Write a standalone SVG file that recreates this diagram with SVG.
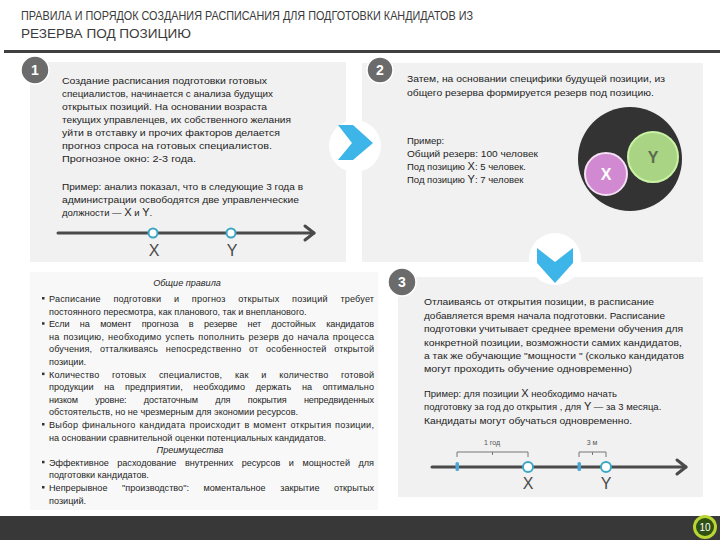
<svg xmlns="http://www.w3.org/2000/svg" width="720" height="540" viewBox="0 0 720 540">
<defs>
<style>
.t{font-family:"Liberation Sans",Arial,sans-serif;fill:#1e1e1e;font-size:9.5px}
.s{font-size:9.1px}
.ttl{font-family:"Liberation Sans",Arial,sans-serif;fill:#3a3a3a;font-size:13.5px}
.panel{fill:#f1f1f1}
.badge{fill:#6b6b6b;stroke:#ffffff;stroke-width:1.5}
.bn{font-family:"Liberation Sans",Arial,sans-serif;fill:#ffffff;font-size:14px;font-weight:bold;text-anchor:middle}
.tl{stroke:#4a4a4a;stroke-width:3;fill:none;stroke-linecap:round;stroke-linejoin:round}
.pt{fill:#ffffff;stroke:#3ba7c6;stroke-width:2}
.xl{font-family:"Liberation Sans",Arial,sans-serif;fill:#4a4a4a;font-size:16px;text-anchor:middle}
.chev{fill:#3db5e8}
.br{stroke:#777777;stroke-width:1;fill:none}
.bl{font-family:"Liberation Sans",Arial,sans-serif;fill:#555555;font-size:7px;text-anchor:middle}
.mk{fill:#4aa8d8}
.bu{fill:#333333}
</style>
</defs>
<rect width="720" height="540" fill="#ffffff"/>

<g id="title">
<text class="ttl" x="21" y="20" textLength="452" lengthAdjust="spacingAndGlyphs">ПРАВИЛА И ПОРЯДОК СОЗДАНИЯ РАСПИСАНИЯ ДЛЯ ПОДГОТОВКИ КАНДИДАТОВ ИЗ</text>
<text class="ttl" x="21" y="38" textLength="170" lengthAdjust="spacingAndGlyphs">РЕЗЕРВА ПОД ПОЗИЦИЮ</text>
<rect x="4" y="50" width="716" height="3" fill="#404040"/>
</g>

<g id="step1">
<rect class="panel" x="30" y="62" width="316" height="200"/>
<circle class="badge" cx="35" cy="70" r="14"/>
<text class="bn" x="35" y="75">1</text>
<text class="t" x="62" y="84" textLength="205" lengthAdjust="spacingAndGlyphs">Создание расписания подготовки готовых</text>
<text class="t" x="62" y="97" textLength="211" lengthAdjust="spacingAndGlyphs">специалистов, начинается с анализа будущих</text>
<text class="t" x="62" y="110" textLength="205" lengthAdjust="spacingAndGlyphs">открытых позиций. На основании возраста</text>
<text class="t" x="62" y="123" textLength="229" lengthAdjust="spacingAndGlyphs">текущих управленцев, их собственного желания</text>
<text class="t" x="62" y="136" textLength="218" lengthAdjust="spacingAndGlyphs">уйти в отставку и прочих факторов делается</text>
<text class="t" x="62" y="149" textLength="210" lengthAdjust="spacingAndGlyphs">прогноз спроса на готовых специалистов.</text>
<text class="t" x="62" y="162" textLength="134" lengthAdjust="spacingAndGlyphs">Прогнозное окно: 2-3 года.</text>
<text class="t" x="62" y="190" textLength="241" lengthAdjust="spacingAndGlyphs">Пример: анализ показал, что в следующие 3 года в</text>
<text class="t" x="62" y="203" textLength="237" lengthAdjust="spacingAndGlyphs">администрации освободятся две управленческие</text>
<text class="t" x="62" y="216">должности — <tspan font-size="11">X</tspan> и <tspan font-size="11">Y</tspan>.</text>
<line class="tl" x1="58" y1="233" x2="314" y2="233"/>
<polyline class="tl" points="305,226 314,233 305,240"/>
<circle class="pt" cx="153" cy="233" r="4.5"/>
<circle class="pt" cx="231" cy="233" r="4.5"/>
<text class="xl" x="154" y="256">X</text>
<text class="xl" x="232" y="256">Y</text>
</g>

<g id="step2">
<rect class="panel" x="362" y="63" width="341" height="199"/>
<circle class="badge" cx="380" cy="70" r="13"/>
<text class="bn" x="380" y="75">2</text>
<text class="t" x="407" y="82" textLength="258" lengthAdjust="spacingAndGlyphs">Затем, на основании специфики будущей позиции, из</text>
<text class="t" x="407" y="96" textLength="247" lengthAdjust="spacingAndGlyphs">общего резерва формируется резерв под позицию.</text>
<text class="t" x="407" y="144">Пример:</text>
<text class="t" x="407" y="157" textLength="131" lengthAdjust="spacingAndGlyphs">Общий резерв: 100 человек</text>
<text class="t" x="407" y="170">Под позицию <tspan font-size="11">X</tspan>: 5 человек.</text>
<text class="t" x="407" y="183">Под позицию <tspan font-size="11">Y</tspan>: 7 человек</text>
<circle cx="630" cy="159" r="52" fill="#333333"/>
<circle cx="653" cy="157" r="25" fill="#a8d483" stroke="#c9f2a4" stroke-width="2"/>
<text x="653" y="163" font-family="Liberation Sans,Arial,sans-serif" font-size="16" font-weight="bold" fill="#5c6a50" text-anchor="middle">Y</text>
<circle cx="606" cy="174" r="21" fill="#d18ad2" stroke="#f4dff4" stroke-width="2"/>
<text x="606" y="180" font-family="Liberation Sans,Arial,sans-serif" font-size="16" font-weight="bold" fill="#ffffff" text-anchor="middle">X</text>
</g>

<g id="step3">
<rect class="panel" x="398" y="277" width="305" height="220"/>
<circle class="badge" cx="402" cy="282" r="14"/>
<text class="bn" x="402" y="287">3</text>
<text class="t" x="424" y="305" textLength="230" lengthAdjust="spacingAndGlyphs">Отлаиваясь от открытия позиции, в расписание</text>
<text class="t" x="424" y="319" textLength="241" lengthAdjust="spacingAndGlyphs">добавляется время начала подготовки. Расписание</text>
<text class="t" x="424" y="332" textLength="259" lengthAdjust="spacingAndGlyphs">подготовки учитывает среднее времени обучения для</text>
<text class="t" x="424" y="346" textLength="258" lengthAdjust="spacingAndGlyphs">конкретной позиции, возможности самих кандидатов,</text>
<text class="t" x="424" y="359" textLength="260" lengthAdjust="spacingAndGlyphs">а так же обучающие "мощности " (сколько кандидатов</text>
<text class="t" x="424" y="372" textLength="208" lengthAdjust="spacingAndGlyphs">могут проходить обучение одновременно)</text>
<text class="t" x="424" y="397">Пример: для позиции <tspan font-size="11">X</tspan> необходимо начать</text>
<text class="t" x="424" y="410">подготовку за год до открытия , для <tspan font-size="11">Y</tspan> — за 3 месяца.</text>
<text class="t" x="424" y="424" textLength="208" lengthAdjust="spacingAndGlyphs">Кандидаты могут обучаться одновременно.</text>
<line class="tl" x1="432" y1="467" x2="686" y2="467"/>
<polyline class="tl" points="677,460 686,467 677,474"/>
<rect class="mk" x="455.5" y="462" width="3.5" height="9" rx="1.5"/>
<rect class="mk" x="577.5" y="462" width="3.5" height="9" rx="1.5"/>
<circle class="pt" cx="528" cy="467" r="5"/>
<circle class="pt" cx="606" cy="467" r="5"/>
<path class="br" d="M457,457 V452 H528 V457 M492.5,452 V455"/>
<path class="br" d="M579,457 V452 H606 V457 M592.5,452 V455"/>
<text class="bl" x="492" y="445">1 год</text>
<text class="bl" x="592" y="445">3 м</text>
<text class="xl" x="528" y="489">X</text>
<text class="xl" x="606" y="489">Y</text>
</g>

<g id="rules">
<rect x="30" y="272" width="348" height="238" fill="#f8f8f8"/>
<text class="t s" x="187" y="286" font-style="italic" text-anchor="middle">Общие правила</text>
<rect class="bu" x="42" y="297" width="2.5" height="2.5"/>
<text class="t s" x="49" y="302" word-spacing="10" textLength="325" lengthAdjust="spacing">Расписание подготовки и прогноз открытых позиций требует</text>
<text class="t s" x="49" y="314.6">постоянного пересмотра, как планового, так и внепланового.</text>
<rect class="bu" x="42" y="322.2" width="2.5" height="2.5"/>
<text class="t s" x="49" y="327.2" word-spacing="8" textLength="325" lengthAdjust="spacing">Если на момент прогноза в резерве нет достойных кандидатов</text>
<text class="t s" x="49" y="339.8" word-spacing="1" textLength="325" lengthAdjust="spacing">на позицию, необходимо успеть пополнить резерв до начала процесса</text>
<text class="t s" x="49" y="352.4" word-spacing="5" textLength="325" lengthAdjust="spacing">обучения, отталкиваясь непосредственно от особенностей открытой</text>
<text class="t s" x="49" y="365">позиции.</text>
<rect class="bu" x="42" y="372.6" width="2.5" height="2.5"/>
<text class="t s" x="49" y="377.6" word-spacing="10" textLength="325" lengthAdjust="spacing">Количество готовых специалистов, как и количество готовой</text>
<text class="t s" x="49" y="390.2" word-spacing="8" textLength="325" lengthAdjust="spacing">продукции на предприятии, необходимо держать на оптимально</text>
<text class="t s" x="49" y="402.8" word-spacing="15" textLength="325" lengthAdjust="spacing">низком уровне: достаточным для покрытия непредвиденных</text>
<text class="t s" x="49" y="415.4">обстоятельств, но не чрезмерным для экономии ресурсов.</text>
<rect class="bu" x="42" y="423" width="2.5" height="2.5"/>
<text class="t s" x="49" y="428" word-spacing="1" textLength="325" lengthAdjust="spacing">Выбор финального кандидата происходит в момент открытия позиции,</text>
<text class="t s" x="49" y="440.6">на основании сравнительной оценки потенциальных кандидатов.</text>
<text class="t s" x="190" y="453.2" font-style="italic" text-anchor="middle">Преимущества</text>
<rect class="bu" x="42" y="460.8" width="2.5" height="2.5"/>
<text class="t s" x="49" y="465.8" word-spacing="6" textLength="325" lengthAdjust="spacing">Эффективное расходование внутренних ресурсов и мощностей для</text>
<text class="t s" x="49" y="478.4">подготовки кандидатов.</text>
<rect class="bu" x="42" y="486" width="2.5" height="2.5"/>
<text class="t s" x="49" y="491" word-spacing="12" textLength="325" lengthAdjust="spacing">Непрерывное "производство": моментальное закрытие открытых</text>
<text class="t s" x="49" y="503.6">позиций.</text>
</g>

<g id="connectors">
<circle cx="355" cy="146" r="26" fill="#ffffff"/>
<polygon class="chev" points="338,125 353,125 373,143 353,160 338,160 352,143"/>
<circle cx="555" cy="259" r="26" fill="#ffffff"/>
<polygon class="chev" points="537,248 555,262 573,248 573,263 555,283 537,263"/>
</g>

<g id="footer">
<rect x="0" y="516" width="720" height="24" fill="#383838"/>
<circle cx="705" cy="527" r="12" fill="#b9d534"/>
<circle cx="705" cy="527" r="9" fill="#2f5013"/>
<text x="705" y="531" font-family="Liberation Sans,Arial,sans-serif" font-size="10" fill="#ffffff" text-anchor="middle">10</text>
</g>
</svg>
